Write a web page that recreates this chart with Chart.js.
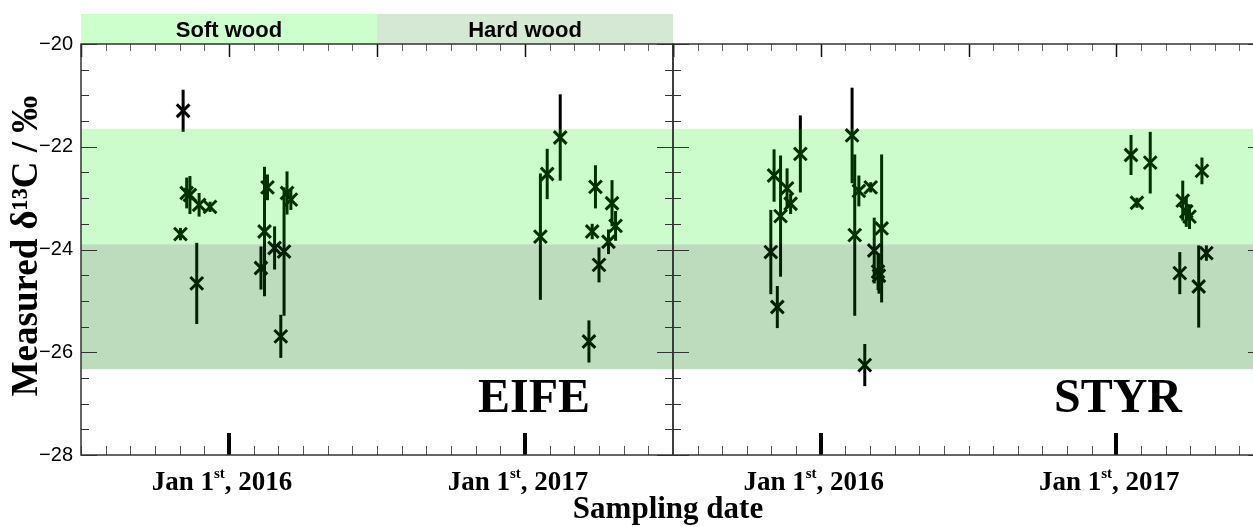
<!DOCTYPE html>
<html>
<head>
<meta charset="utf-8">
<script src="https://cdn.jsdelivr.net/npm/chart.js@4.4.1/dist/chart.umd.min.js"></script>
<style>
  html, body { margin: 0; padding: 0; background: #fff; overflow: hidden; }
  #wrap { position: relative; width: 1253px; height: 527px; overflow: hidden; }
  #eife { position: absolute; left: 0; top: 0; }
  #styr { position: absolute; left: 660px; top: 0; }
</style>
</head>
<body>
<div id="wrap">
  <canvas id="eife" width="800" height="527"></canvas>
  <canvas id="styr" width="620" height="527"></canvas>
</div>
<script>
// sampling date as decimal year, measured d13C (permil), error
const eifeDate = [2015.845, 2015.836, 2015.857, 2015.868, 2015.891, 2015.899, 2015.936,
                  2016.108, 2016.120, 2016.130, 2016.154, 2016.175, 2016.186, 2016.196, 2016.209,
                  2017.052, 2017.075, 2017.119, 2017.216, 2017.227, 2017.238, 2017.250, 2017.282, 2017.294, 2017.306];
const eifeD13C = [-21.30, -23.70, -22.90, -22.94, -24.66, -23.13, -23.17,
                  -24.36, -23.65, -22.79, -23.97, -25.69, -24.04, -22.90, -23.03,
                  -23.75, -22.53, -21.82, -25.79, -23.65, -22.78, -24.30, -23.85, -23.10, -23.54];
const eifeErr  = [0.41, 0.12, 0.30, 0.37, 0.79, 0.23, 0.10,
                  0.42, 1.26, 0.25, 0.42, 0.42, 1.25, 0.42, 0.20,
                  1.23, 0.49, 0.84, 0.41, 0.15, 0.42, 0.34, 0.24, 0.45, 0.29];

const styrDate = [2015.831, 2015.842, 2015.853, 2015.864, 2015.886, 2015.898, 2015.931,
                  2016.106, 2016.115, 2016.129, 2016.149, 2016.169, 2016.181, 2016.194, 2016.197, 2016.206,
                  2017.050, 2017.070, 2017.115, 2017.215, 2017.225, 2017.237, 2017.248, 2017.279, 2017.290, 2017.305];
const styrD13C = [-24.05, -22.56, -25.12, -23.35, -22.81, -23.11, -22.14,
                  -21.78, -23.72, -22.86, -26.25, -22.79, -24.02, -24.43, -24.51, -23.59,
                  -22.16, -23.09, -22.31, -24.46, -23.05, -23.26, -23.36, -24.72, -22.47, -24.07];
const styrErr  = [0.82, 0.51, 0.41, 1.18, 0.39, 0.20, 0.75,
                  0.93, 1.57, 0.30, 0.41, 0.10, 0.64, 0.36, 0.35, 1.44,
                  0.39, 0.10, 0.60, 0.41, 0.39, 0.30, 0.24, 0.80, 0.26, 0.15];

// reference ranges (soft wood / hard wood)
const woodNames = ['Soft wood', 'Hard wood'];
const woodStart = [2015.5, 2016.5];
const woodEnd   = [2016.5, 2017.5];
const bandLow   = [-23.90, -26.33];
const bandHigh  = [-21.65, -23.90];

const xMin = 2015.5, xMax = 2017.5;
const yMin = -28, yMax = -20;
const yearLabels = [2016, 2017];

const serif = '"Liberation Serif", "Times New Roman", serif';
const sans = '"Liberation Sans", Arial, sans-serif';

function drawJan(ctx, cx, year) {
  const a = 'Jan 1', sup = 'st', b = ', ' + year;
  ctx.font = 'bold 27px ' + serif;
  const w1 = ctx.measureText(a).width, w3 = ctx.measureText(b).width;
  ctx.font = 'bold 15px ' + serif;
  const w2 = ctx.measureText(sup).width;
  let x0 = cx - (w1 + w2 + w3) / 2;
  ctx.textAlign = 'left';
  ctx.textBaseline = 'alphabetic';
  ctx.font = 'bold 27px ' + serif;
  ctx.fillText(a, x0, 490);
  ctx.font = 'bold 15px ' + serif;
  ctx.fillText(sup, x0 + w1, 478);
  ctx.font = 'bold 27px ' + serif;
  ctx.fillText(b, x0 + w1 + w2, 490);
}

function panelPlugin(site, dates, vals, errs, isLeft) {
  return {
    id: 'panel_' + site,
    afterDatasetsDraw(chart) {
      const ctx = chart.ctx, a = chart.chartArea;
      const x = chart.scales.x, y = chart.scales.y;
      ctx.save();
      // error bars
      ctx.strokeStyle = '#000';
      ctx.lineWidth = 3;
      dates.forEach((d, i) => {
        const px = x.getPixelForValue(d);
        ctx.beginPath();
        ctx.moveTo(px, y.getPixelForValue(vals[i] - errs[i]));
        ctx.lineTo(px, y.getPixelForValue(vals[i] + errs[i]));
        ctx.stroke();
      });
      // translucent reference bands on top
      const bandColor = ['rgba(0,240,0,0.2)', 'rgba(0,120,0,0.26)'];
      bandLow.forEach((lo, i) => {
        const t = y.getPixelForValue(bandHigh[i]), b = y.getPixelForValue(lo);
        ctx.fillStyle = bandColor[i];
        ctx.fillRect(a.left, t, a.right - a.left, b - t);
      });
      ctx.restore();
    },
    afterDraw(chart) {
      const ctx = chart.ctx, a = chart.chartArea;
      const x = chart.scales.x, y = chart.scales.y;
      ctx.save();
      // header strip
      if (isLeft) {
        const hdr = ['#ccffcc', '#d4e8d4'];
        woodNames.forEach((n, i) => {
          const l = x.getPixelForValue(woodStart[i]), r = x.getPixelForValue(woodEnd[i]);
          ctx.fillStyle = hdr[i];
          ctx.fillRect(l, a.top - 30, r - l, 30);
          ctx.fillStyle = '#000';
          ctx.font = 'bold 22px ' + sans;
          ctx.textAlign = 'center';
          ctx.textBaseline = 'alphabetic';
          ctx.fillText(n, (l + r) / 2, a.top - 7);
        });
      }
      // x ticks (monthly)
      for (let k = 0; k <= 24; k++) {
        const v = xMin + k / 12;
        const px = Math.round(x.getPixelForValue(v)) + 0.5;
        const jan = (k + 6) % 12 === 0, jul = k % 12 === 0;
        if (jan) {
          ctx.fillStyle = '#000';
          ctx.fillRect(px - 2.5, a.bottom - 22, 4, 22);
        } else {
          ctx.strokeStyle = '#555';
          ctx.lineWidth = 1;
          ctx.beginPath();
          ctx.moveTo(px, a.bottom);
          ctx.lineTo(px, a.bottom - 9);
          ctx.stroke();
        }
        ctx.strokeStyle = (jan || jul) ? '#111' : '#666';
        ctx.lineWidth = (jan || jul) ? 1.5 : 1;
        ctx.beginPath();
        ctx.moveTo(px, a.top);
        ctx.lineTo(px, a.top + ((jan || jul) ? 13 : 7));
        ctx.stroke();
      }
      // y ticks
      ctx.strokeStyle = '#333';
      ctx.lineWidth = 1.2;
      for (let v = yMin; v <= yMax; v += 0.5) {
        const py = Math.round(y.getPixelForValue(v)) + 0.5;
        const len = (v % 2 === 0) ? 16 : 8;
        ctx.beginPath();
        ctx.moveTo(a.left, py); ctx.lineTo(a.left + len, py);
        ctx.moveTo(a.right, py); ctx.lineTo(a.right - len, py);
        ctx.stroke();
      }
      // frame
      ctx.strokeStyle = '#333';
      ctx.lineWidth = 1.5;
      ctx.strokeRect(a.left, a.top, a.right - a.left, a.bottom - a.top);
      // date labels
      ctx.fillStyle = '#000';
      yearLabels.forEach(yr => drawJan(ctx, x.getPixelForValue(yr) - 7, yr));
      // site name
      ctx.font = 'bold 48px ' + serif;
      ctx.textAlign = 'right';
      ctx.textBaseline = 'alphabetic';
      ctx.fillText(site, a.left + 509, 412);
      if (isLeft) {
        // axis titles
        ctx.font = 'bold 31px ' + serif;
        ctx.textAlign = 'center';
        ctx.fillText('Sampling date', 668, 518);
        ctx.save();
        ctx.translate(37, 246);
        ctx.rotate(-Math.PI / 2);
        ctx.font = 'bold 37px ' + serif;
        ctx.fillText('Measured δ¹³C / ‰', 0, 0);
        ctx.restore();
      }
      ctx.restore();
    }
  };
}

function makeChart(id, site, dates, vals, errs, isLeft) {
  return new Chart(document.getElementById(id), {
    type: 'scatter',
    data: {
      datasets: [{
        label: site,
        data: dates.map((d, i) => ({ x: d, y: vals[i] })),
        pointStyle: 'crossRot',
        pointRadius: 9,
        pointBorderWidth: 3,
        borderColor: '#000',
        backgroundColor: '#000'
      }]
    },
    options: {
      responsive: false,
      animation: false,
      layout: { padding: { top: 44, left: 0, bottom: 0, right: isLeft ? 127 : 16 } },
      scales: {
        x: {
          type: 'linear', min: xMin, max: xMax,
          ticks: { display: false },
          grid: { display: false, drawTicks: false },
          border: { display: false },
          afterFit: s => { s.height = 72; }
        },
        y: {
          min: yMin, max: yMax,
          ticks: {
            display: isLeft, stepSize: 2, padding: 8, color: '#000',
            font: { family: sans, size: 20 },
            callback: v => String(v).replace('-', '\u2212')
          },
          grid: { display: false, drawTicks: false },
          border: { display: false },
          afterFit: s => { s.width = isLeft ? 81 : 13; }
        }
      },
      plugins: { legend: { display: false }, tooltip: { enabled: false } }
    },
    plugins: [panelPlugin(site, dates, vals, errs, isLeft)]
  });
}

makeChart('eife', 'EIFE', eifeDate, eifeD13C, eifeErr, true);
makeChart('styr', 'STYR', styrDate, styrD13C, styrErr, false);
</script>
</body>
</html>
